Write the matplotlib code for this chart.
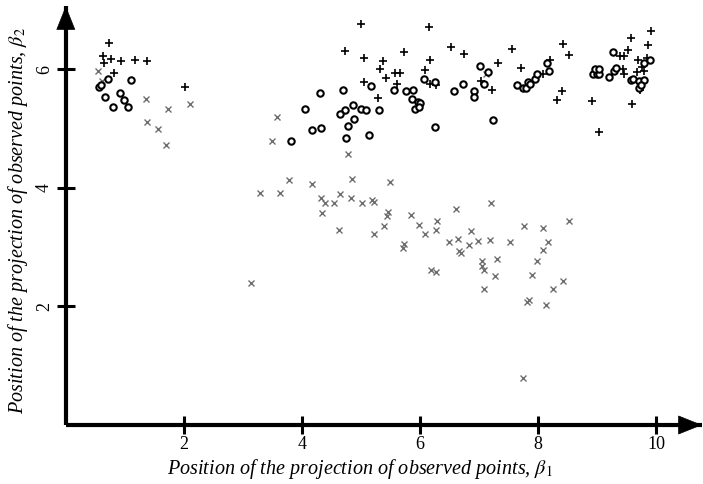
import matplotlib
matplotlib.use("Agg")
import matplotlib.pyplot as plt

plus_x = [0.73,0.63,0.77,0.65,0.94,1.17,1.38,0.81,2.02,5.00,6.16,4.73,5.06,5.37,5.33,5.73,6.17,6.52,6.75,7.33,
          5.42,5.57,5.67,6.08,5.06,5.61,6.17,6.28,5.29,7.03,7.22,7.56,8.42,8.52,7.71,8.20,8.08,8.41,8.33,8.92,
          9.04,9.58,9.92,9.87,9.52,9.46,9.39,9.70,9.85,9.44,9.46,9.68,9.77,9.79,9.73,9.60]
plus_y = [6.45,6.22,6.18,6.11,6.15,6.16,6.14,5.94,5.70,6.77,6.72,6.31,6.20,6.15,6.01,6.30,6.16,6.38,6.26,6.10,
          5.85,5.94,5.94,5.99,5.79,5.75,5.76,5.74,5.51,5.80,5.66,6.35,6.43,6.24,6.02,6.16,5.93,5.63,5.49,5.47,
          4.95,6.53,6.64,6.42,6.32,6.23,6.22,6.16,6.20,6.01,5.92,5.96,6.04,5.98,5.65,5.41]

circle_x = [0.71,0.56,0.59,1.11,0.92,0.67,0.98,0.80,1.05,4.05,3.82,4.30,4.69,4.17,4.33,5.17,4.73,4.65,4.87,5.00,
            5.08,5.30,4.89,4.79,4.75,5.13,5.56,5.77,5.89,6.07,6.25,5.86,5.96,6.00,5.92,5.99,6.25,6.58,6.73,6.91,
            6.92,7.02,7.15,7.08,7.24,7.65,7.75,7.80,7.83,7.86,7.95,7.99,8.15,8.18,9.27,9.21,9.29,9.33,8.94,9.00,
            9.04,8.97,9.04,9.58,9.61,9.72,9.79,9.71,9.75,9.80,9.90]
circle_y = [5.84,5.70,5.73,5.82,5.61,5.53,5.49,5.36,5.36,5.34,4.80,5.61,5.65,4.98,5.01,5.72,5.32,5.24,5.40,5.34,
            5.32,5.32,5.16,5.05,4.85,4.90,5.65,5.63,5.66,5.84,5.79,5.50,5.45,5.43,5.34,5.37,5.03,5.63,5.76,5.63,
            5.53,6.05,5.96,5.76,5.15,5.74,5.69,5.69,5.78,5.75,5.84,5.92,6.10,5.98,6.30,5.88,5.97,6.03,5.92,5.92,
            5.92,6.00,6.01,5.82,5.83,5.80,5.82,5.69,5.73,6.11,6.16]

cross_x = [0.55,0.62,1.36,1.73,2.11,1.38,1.56,1.69,3.58,3.50,3.78,3.29,3.63,4.78,7.12,4.17,4.85,5.50,4.32,4.39,
           4.54,4.65,4.83,5.02,4.34,5.19,5.23,4.63,5.22,5.46,5.44,5.40,5.85,5.98,6.08,6.29,6.28,6.61,5.73,5.71,
           6.50,6.64,6.66,6.69,6.86,6.84,6.99,6.19,6.27,3.13,7.21,7.19,7.52,7.77,8.08,8.52,8.17,8.08,7.31,7.05,
           7.05,7.09,7.27,7.08,7.98,7.90,8.43,8.25,7.84,7.81,8.13,7.75]
cross_y = [5.97,5.80,5.50,5.34,5.41,5.11,5.00,4.73,5.19,4.80,4.13,3.92,3.91,4.58,5.92,4.06,4.15,4.10,3.83,3.74,
           3.75,3.89,3.83,3.74,3.58,3.79,3.77,3.29,3.23,3.60,3.52,3.35,3.54,3.37,3.22,3.45,3.29,3.64,3.06,2.98,
           3.09,3.14,2.93,2.90,3.28,3.03,3.10,2.61,2.58,2.40,3.75,3.12,3.08,3.35,3.33,3.45,3.08,2.96,2.80,2.76,
           2.69,2.61,2.51,2.30,2.76,2.53,2.43,2.30,2.11,2.07,2.03,0.80]

x_ticks = [2, 4, 6, 8, 10]
y_ticks = [2, 4, 6]
x_label = r'Position of the projection of observed points, $\beta_1$'
y_label = r'Position of the projection of observed points, $\beta_2$'

plt.rcParams['font.family'] = ['Liberation Serif', 'DejaVu Serif']
plt.rcParams['mathtext.fontset'] = 'stix'

W, H = 703, 484
fig = plt.figure(figsize=(W / 100, H / 100), dpi=100)
ax = fig.add_axes([0.0936, 0.1219, 0.905, 0.8657])

ax.plot(cross_x, cross_y, 'x', color='#6e6e6e', ms=4.5, mew=1.0, ls='none')
ax.plot(plus_x, plus_y, '+', color='black', ms=5.5, mew=1.2, ls='none')
ax.plot(circle_x, circle_y, 'o', mfc='white', mec='black', ms=4.6, mew=1.5, ls='none')

ax.set_xlim(0, 10.78)
ax.set_ylim(0, 7.07)
for s in ['top', 'right']:
    ax.spines[s].set_visible(False)
for s in ['left', 'bottom']:
    ax.spines[s].set_linewidth(3.0)
    ax.spines[s].set_capstyle('butt')

ax.set_xticks(x_ticks)
ax.set_yticks(y_ticks)
ax.tick_params(direction='inout', length=12.5, width=2.2, labelsize=13)
ax.tick_params(axis='x', pad=2)
ax.tick_params(axis='y', pad=3)
for lab in ax.get_yticklabels():
    lab.set_rotation(90)
    lab.set_verticalalignment('center')

# arrowheads
astyle = dict(arrowstyle='-|>,head_length=0.9,head_width=0.36', color='black',
              lw=0.5, mutation_scale=18, shrinkA=0, shrinkB=0)
ax.annotate('', xy=(1.0, 0), xytext=(0.97, 0), xycoords='axes fraction',
            arrowprops=astyle, annotation_clip=False)
ax.annotate('', xy=(0, 1.0), xytext=(0, 0.96), xycoords='axes fraction',
            arrowprops=astyle, annotation_clip=False)

fig.text(360 / W, 1 - 469 / H, x_label, fontsize=14.5, style='italic', ha='center', va='center')
fig.text(18 / W, 1 - 221 / H, y_label, fontsize=14.5, style='italic', ha='center', va='center',
         rotation=90)

fig.savefig('out.png', dpi=100)
